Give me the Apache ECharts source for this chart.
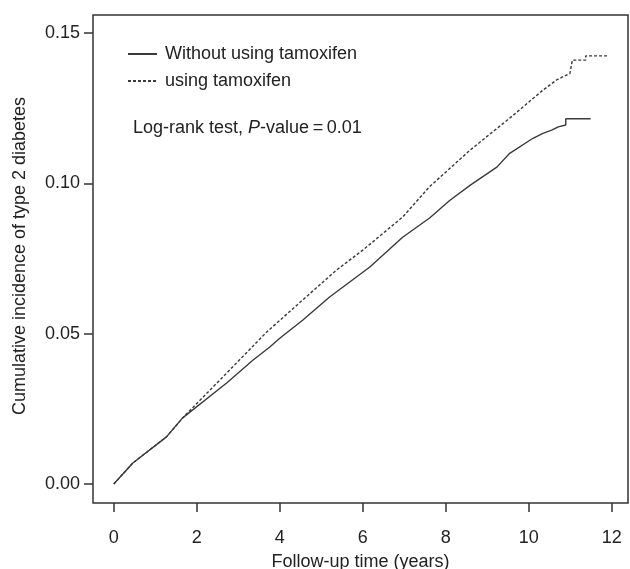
<!DOCTYPE html>
<html>
<head>
<meta charset="utf-8">
<script src="https://cdn.jsdelivr.net/npm/echarts@6/dist/echarts.min.js"></script>
<style>html,body{margin:0;padding:0;background:#fff}#c{width:630px;height:569px}</style>
</head>
<body>
<div id="c"></div>
<script>
// Data
const seriesNames = ['Without using tamoxifen', 'using tamoxifen'];
const withoutTamoxifen = [
  [0, 0], [0.46, 0.007], [1.27, 0.0157], [1.66, 0.022], [2.72, 0.0336], [3.35, 0.0412],
  [3.76, 0.0456], [4.0, 0.0485], [4.55, 0.0545], [5.2, 0.0622], [6.17, 0.0722],
  [6.96, 0.0821], [7.61, 0.0885], [8.1, 0.0944], [8.6, 0.0995], [9.23, 0.1054],
  [9.54, 0.110], [10.1, 0.115], [10.34, 0.1166], [10.55, 0.1177], [10.71, 0.1188],
  [10.89, 0.1194], [10.89, 0.1215], [11.49, 0.1215]
];
const usingTamoxifen = [
  [0, 0], [0.46, 0.007], [1.27, 0.0157], [1.66, 0.022], [2.72, 0.0369], [3.68, 0.0505],
  [4.55, 0.0612], [5.37, 0.0712], [6.0, 0.0778], [6.96, 0.0888], [7.61, 0.0989],
  [8.58, 0.111], [9.54, 0.1217], [10.34, 0.131], [10.67, 0.1344], [10.99, 0.1366],
  [11.05, 0.141], [11.37, 0.141], [11.37, 0.1424], [11.91, 0.1424]
];
const xTicks = [0, 2, 4, 6, 8, 10, 12];
const yTicks = [0, 0.05, 0.10, 0.15];
const annotation = 'Log-rank test, ';

const FONT = '"Liberation Sans", Arial, Helvetica, sans-serif';
const TXT = '#222';
const LINE = '#3a3a3a';
const chart = echarts.init(document.getElementById('c'), null, {renderer: 'canvas'});
chart.setOption({
  animation: false,
  backgroundColor: '#fff',
  textStyle: {fontFamily: FONT},
  grid: {left: 93, top: 15, right: 2, bottom: 66, show: true, borderColor: '#333', borderWidth: 1.5,
    backgroundColor: '#fff', containLabel: false, outerBoundsMode: 'none'},
  legend: {
    orient: 'vertical', left: 127, top: 45, padding: 0, itemWidth: 29, itemHeight: 10, itemGap: 9,
    itemStyle: {opacity: 0},
    textStyle: {fontFamily: FONT, fontSize: 18, color: TXT, padding: [0, 0, 0, 3]},
    data: seriesNames
  },
  xAxis: {
    type: 'value', min: -0.5, max: 12.39,
    axisLine: {show: false, onZero: false},
    splitLine: {show: false},
    axisTick: {show: true, length: 9, customValues: xTicks, lineStyle: {color: '#333', width: 1.5}},
    axisLabel: {customValues: xTicks, margin: 26, fontSize: 18, color: TXT, fontFamily: FONT},
    name: 'Follow-up time (years)', nameLocation: 'middle', nameGap: 50,
    nameTextStyle: {fontSize: 18, color: TXT, fontFamily: FONT}
  },
  yAxis: {
    type: 'value', min: -0.0063, max: 0.156,
    axisLine: {show: false, onZero: false},
    splitLine: {show: false},
    axisTick: {show: true, length: 9, customValues: yTicks, lineStyle: {color: '#333', width: 1.5}},
    axisLabel: {customValues: yTicks, margin: 13, fontSize: 18, color: TXT, fontFamily: FONT,
      formatter: v => v.toFixed(2)}
  },
  graphic: [
    {type: 'text', x: 20, y: 256, rotation: Math.PI / 2,
      style: {text: 'Cumulative incidence of type 2 diabetes', fill: TXT, font: '18px ' + FONT,
        align: 'center', verticalAlign: 'middle'}},
    {type: 'text', x: 133, y: 128,
      style: {text: annotation + '{i|P}-value\u2009=\u20090.01', fill: TXT, font: '18px ' + FONT,
        verticalAlign: 'middle',
        rich: {i: {fontStyle: 'italic', fontSize: 18, fontFamily: FONT, fill: TXT}}}}
  ],
  series: [
    {name: seriesNames[0], type: 'line', data: withoutTamoxifen, showSymbol: false, symbol: 'none',
      lineStyle: {color: LINE, width: 1.4, type: 'solid'}, itemStyle: {color: LINE}},
    {name: seriesNames[1], type: 'line', data: usingTamoxifen, showSymbol: false, symbol: 'none',
      lineStyle: {color: LINE, width: 1.4, type: [3, 2]}, itemStyle: {color: LINE}}
  ]
});
</script>
</body>
</html>
